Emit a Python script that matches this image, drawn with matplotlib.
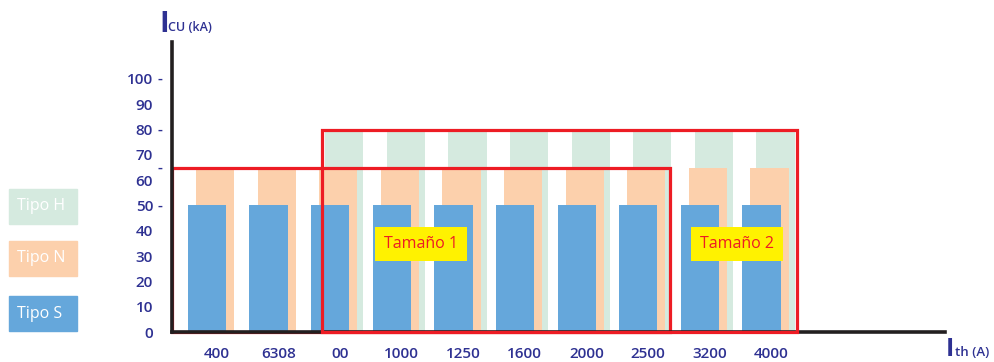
import matplotlib.pyplot as plt
from matplotlib.patches import Rectangle
import matplotlib.transforms as mtransforms

# data
categories = ['400', '6308', '00', '1000', '1250', '1600', '2000', '2500', '3200', '4000']
tipo_s = [50, 50, 50, 50, 50, 50, 50, 50, 50, 50]
tipo_n = [65, 65, 65, 65, 65, 65, 65, 65, 65, 65]
tipo_h = [None, None, 80, 80, 80, 80, 80, 80, 80, 80]
y_ticks = [0, 10, 20, 30, 40, 50, 60, 70, 80, 90, 100]
dash_levels = [50, 65, 80, 100]
series_names = ['Tipo H', 'Tipo N', 'Tipo S']
tamano_1 = (0, 7)   # first / last category inside "Tamaño 1"
tamano_2 = (2, 9)   # first / last category inside "Tamaño 2"

navy = '#2e3192'
red = '#ed1c24'
c_h, c_n, c_s = '#d5eadf', '#fcd0ac', '#65a7db'

plt.rcParams['font.family'] = ['Open Sans', 'DejaVu Sans']

fig = plt.figure(figsize=(9.95, 3.62), dpi=100)
ax = fig.add_axes([172 / 995, 30 / 362, 773 / 995, 290 / 362])

w = 0.62
off_n, off_h = 0.13, 0.23
x = list(range(len(categories)))

hx = [i for i, v in enumerate(tipo_h) if v is not None]
hv = [tipo_h[i] for i in hx]
ax.bar([i + off_h for i in hx], hv, width=w, color=c_h, zorder=1)
ax.bar([i + off_n for i in x], tipo_n, width=w, color=c_n, zorder=2)
ax.bar(x, tipo_s, width=w, color=c_s, zorder=3)

ax.set_xlim(-0.568, 11.98)
ax.set_ylim(0, 114.6)

# red frames around the two sizes
xl = ax.get_xlim()[0]
r1 = tamano_1[1] + off_n + w / 2 + 0.08
ax.add_patch(Rectangle((xl, 0), r1 - xl, max(tipo_n), fill=False,
                       edgecolor=red, lw=2.3, zorder=3.5, clip_on=False))
l2 = tamano_2[0] + off_h - w / 2 - 0.05
r2 = tamano_2[1] + off_h + w / 2 + 0.03
ax.add_patch(Rectangle((l2, 0), r2 - l2, max(hv), fill=False,
                       edgecolor=red, lw=2.3, zorder=6, clip_on=False))

box = dict(boxstyle='square,pad=0.55', facecolor='#fff200', edgecolor='none')
ax.text((tamano_1[0] + tamano_1[1]) / 2 - 0.03, 34.8, 'Tamaño 1', color=red,
        fontsize=11.5, ha='center', va='center', bbox=box, zorder=7)
ax.text(8.6, 34.8, 'Tamaño 2', color=red,
        fontsize=11.5, ha='center', va='center', bbox=box, zorder=7)

# axes
for s in ['top', 'right']:
    ax.spines[s].set_visible(False)
for s in ['left', 'bottom']:
    ax.spines[s].set_linewidth(2.6)
    ax.spines[s].set_color('#231f20')
    ax.spines[s].set_zorder(4)

ax.set_yticks(y_ticks, [str(v) for v in y_ticks])
ax.tick_params(axis='y', length=0, pad=13.5, labelsize=11, labelcolor=navy)
ax.set_xticks([i + 0.16 for i in x], categories)
ax.tick_params(axis='x', length=0, pad=11, labelsize=11, labelcolor=navy)
for lab in ax.get_xticklabels() + ax.get_yticklabels():
    lab.set_fontweight('semibold')

trans = mtransforms.blended_transform_factory(fig.transFigure, ax.transData)
for lv in dash_levels:
    ax.text(160 / 995, lv, '-', transform=trans, ha='center', va='center',
            color=navy, fontsize=11, fontweight='semibold')

# axis titles
fig.text(159 / 995, 1 - 32 / 362, 'I', color=navy, fontsize=21,
         fontweight='bold', va='baseline')
fig.text(168 / 995, 1 - 31 / 362, 'CU (kA)', color=navy, fontsize=9,
         fontweight='semibold', va='baseline')
fig.text(946 / 995, 1 - 356 / 362, 'I', color=navy, fontsize=18,
         fontweight='bold', va='baseline')
fig.text(955 / 995, 1 - 356 / 362, 'th (A)', color=navy, fontsize=9.5,
         fontweight='semibold', va='baseline')

# legend boxes on the left
legend_colors = [c_h, c_n, c_s]
legend_tops = [189, 241, 296]
for name, col, top in zip(series_names, legend_colors, legend_tops):
    fig.add_artist(Rectangle((9 / 995, 1 - (top + 35) / 362), 68 / 995, 35 / 362,
                             transform=fig.transFigure, color=col))
    fig.text(17 / 995, 1 - (top + 17.5) / 362, name, color='white',
             fontsize=11.5, va='center', ha='left')

fig.savefig('out.png', dpi=100)
